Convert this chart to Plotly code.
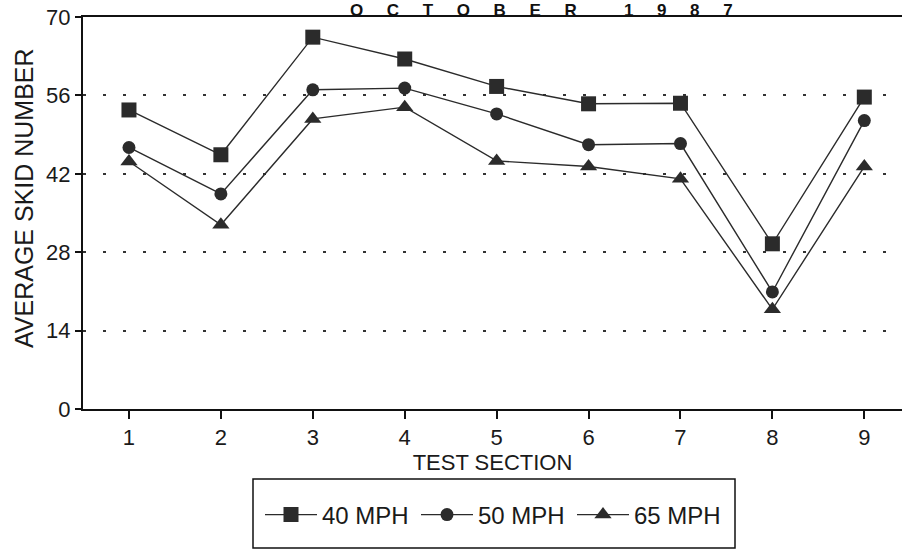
import plotly.graph_objects as go

sections = [1, 2, 3, 4, 5, 6, 7, 8, 9]
mph40 = [53.4, 45.4, 66.4, 62.5, 57.6, 54.5, 54.6, 29.5, 55.7]
mph50 = [46.7, 38.4, 57.0, 57.3, 52.7, 47.2, 47.4, 20.9, 51.5]
mph65 = [44.2, 32.9, 51.8, 53.9, 44.3, 43.3, 41.1, 17.8, 43.3]
y_ticks = [0, 14, 28, 42, 56, 70]
series_names = ["40 MPH", "50 MPH", "65 MPH"]
title_text = "OCTOBER 1987"
x_title = "TEST SECTION"
y_title = "AVERAGE SKID NUMBER"

INK = "#2b2b2b"
FONT = "Liberation Sans, Arial, sans-serif"

fig = go.Figure()
for name, vals, sym, size in [
    (series_names[0], mph40, "square", 15),
    (series_names[1], mph50, "circle", 13),
    (series_names[2], mph65, "triangle-up", 15),
]:
    fig.add_trace(go.Scatter(
        x=sections, y=vals, name=name, mode="lines+markers",
        line=dict(color=INK, width=1.4),
        marker=dict(symbol=sym, size=size, color=INK),
    ))

W, H = 902, 550
L, R, T, B = 83, 0, 17, 141
pw, ph = W - L - R, H - T - B

def px_x(p):
    return (p - L) / pw

def px_y(p):
    return (H - B - p) / ph

fig.add_shape(type="rect", xref="paper", yref="paper",
              x0=px_x(253), x1=px_x(735), y0=px_y(548), y1=px_y(479),
              line=dict(color="#111", width=1.5), fillcolor="rgba(0,0,0,0)")

gap = "\u00a0" * 5
words = title_text.split(" ")
spaced = ("\u00a0" * 10).join(gap.join(list(w)) for w in words)
fig.add_annotation(text="<b>" + spaced + "</b>", xref="paper", yref="paper",
                   x=px_x(541), y=px_y(0), xanchor="center", yanchor="top",
                   showarrow=False, borderpad=0,
                   font=dict(family=FONT, size=17, color="#111"))

fig.add_annotation(text=y_title, xref="paper", yref="paper",
                   x=px_x(24), y=px_y(198), xanchor="center", yanchor="middle",
                   textangle=-90, showarrow=False, borderpad=0,
                   font=dict(family=FONT, size=25, color="#1a1a1a"))

fig.update_layout(
    width=W, height=H,
    margin=dict(l=L, r=R, t=T, b=B),
    paper_bgcolor="white", plot_bgcolor="white",
    font=dict(family=FONT, size=22, color="#1a1a1a"),
    showlegend=True,
    legend=dict(orientation="h", x=px_x(260), y=px_y(515),
                xanchor="left", yanchor="middle",
                font=dict(size=24, family=FONT), itemwidth=52,
                entrywidth=89,
                bgcolor="rgba(0,0,0,0)"),
    xaxis=dict(range=[0.5, 9.41], tickvals=sections, automargin=False,
               ticks="outside", ticklen=8, tickwidth=1.5, tickcolor="#111",
               showline=True, linecolor="#111", linewidth=2, mirror=True,
               showgrid=False, zeroline=False,
               title=dict(text=x_title, font=dict(size=22), standoff=2),
               tickfont=dict(size=22)),
    yaxis=dict(range=[0, 70], tickvals=y_ticks, automargin=False,
               ticks="outside", ticklen=6, tickwidth=1.5, tickcolor="#111",
               showline=True, linecolor="#111", linewidth=2,
               showgrid=True, gridcolor="#333", gridwidth=1.5, griddash="3px,17px",
               zeroline=False,
               tickfont=dict(size=22)),
)

fig.write_html("out.html",
               config={"displayModeBar": False},
               post_script="document.body.style.margin='0';")
